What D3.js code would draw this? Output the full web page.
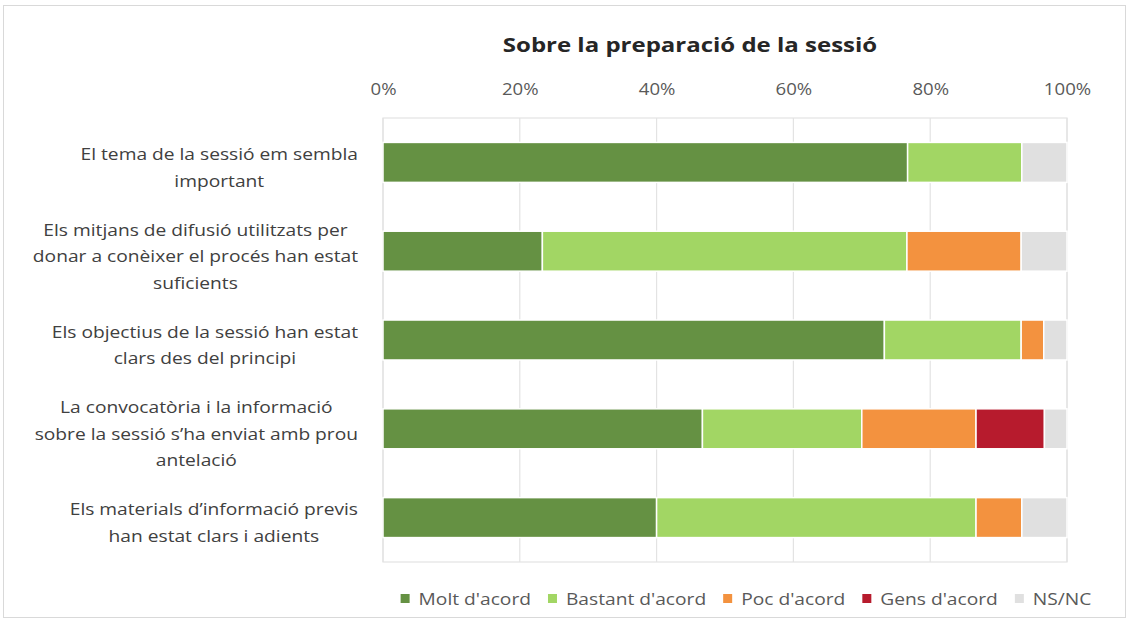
<!DOCTYPE html>
<html>
<head>
<meta charset="utf-8">
<script src="https://cdn.jsdelivr.net/npm/d3@7/dist/d3.min.js"></script>
<style>
  html, body { margin: 0; padding: 0; background: #fff; }
  svg { display: block; }
  text { font-family: "Open Sans", sans-serif; }
</style>
</head>
<body>
<svg id="chart" width="1129" height="621"></svg>
<script>
const categories = [
  ["El tema de la sessió em sembla", "important"],
  ["Els mitjans de difusió utilitzats per", "donar a conèixer el procés han estat", "suficients"],
  ["Els objectius de la sessió han estat", "clars des del principi"],
  ["La convocatòria i la informació", "sobre la sessió s’ha enviat amb prou", "antelació"],
  ["Els materials d’informació previs", "han estat clars i adients"]
];
const seriesNames = ["Molt d'acord", "Bastant d'acord", "Poc d'acord", "Gens d'acord", "NS/NC"];
const moltAcord    = [76.7, 23.3, 73.3, 46.7, 40.0];
const bastantAcord = [16.7, 53.3, 20.0, 23.3, 46.7];
const pocAcord     = [0.0, 16.7, 3.3, 16.7, 6.7];
const gensAcord    = [0.0, 0.0, 0.0, 10.0, 0.0];
const nsnc         = [6.6, 6.7, 3.4, 3.3, 6.6];
const tickValues = [0, 20, 40, 60, 80, 100];
const colors = ["#659143", "#a2d664", "#f3923f", "#b71b2d", "#e0e0e0"];
const title = "Sobre la preparació de la sessió";

const SX = 1.2; // horizontal text stretch as in the reference

const seriesValues = [moltAcord, bastantAcord, pocAcord, gensAcord, nsnc];
const rows = categories.map((c, i) => {
  const r = { key: i };
  seriesNames.forEach((s, j) => r[s] = seriesValues[j][i]);
  return r;
});
const stacked = d3.stack().keys(seriesNames)(rows);

const svg = d3.select("#chart");

// outer border
svg.append("rect").attr("x", 3.5).attr("y", 5.5).attr("width", 1122).attr("height", 612)
  .attr("fill", "none").attr("stroke", "#d9d9d9").attr("stroke-width", 1);

const x = d3.scaleLinear().domain([0, 100]).range([383, 1067]);
const y = d3.scaleBand().domain(d3.range(categories.length)).range([118, 562])
  .paddingInner(0.55).paddingOuter(0.275);

// plot area box
svg.append("rect").attr("x", x(0)).attr("y", 118).attr("width", x(100) - x(0)).attr("height", 444)
  .attr("fill", "none").attr("stroke", "#e3e3e3").attr("stroke-width", 1.2);

// gridlines
svg.append("g").selectAll("line").data(tickValues).join("line")
  .attr("x1", d => x(d)).attr("x2", d => x(d)).attr("y1", 118).attr("y2", 562)
  .attr("stroke", "#e3e3e3").attr("stroke-width", 1.2);

// axis labels on top
const axis = d3.axisTop(x).tickValues(tickValues).tickFormat(d => d + "%").tickSize(0).tickPadding(0);
const ag = svg.append("g").attr("transform", "translate(0,95)").call(axis);
ag.select(".domain").remove();
ag.selectAll("text").attr("font-family", "'Open Sans', sans-serif").attr("font-size", 15.5)
  .attr("fill", "#595959").attr("dy", 0).attr("y", 0).attr("transform", `scale(${SX},1)`);

// bars
svg.append("g").selectAll("g").data(stacked).join("g")
  .attr("fill", (d, i) => colors[i])
  .selectAll("rect").data(d => d).join("rect")
  .filter(d => d[1] - d[0] > 0)
  .attr("x", d => x(d[0]))
  .attr("width", d => x(d[1]) - x(d[0]))
  .attr("y", (d, i) => y(d.data.key))
  .attr("height", y.bandwidth())
  .attr("stroke", "#fff").attr("stroke-width", 1.5);

// category labels
const lineH = 26.5;
const lg = svg.append("g");
categories.forEach((lines, i) => {
  const cy = y(i) + y.bandwidth() / 2;
  const t = lg.append("text").attr("font-size", 16).attr("fill", "#404040")
    .attr("text-anchor", "middle").attr("transform", `translate(358,0) scale(${SX},1)`);
  const tsp = lines.map((l, k) => t.append("tspan").text(l)
    .attr("y", cy + (k - (lines.length - 1) / 2) * lineH + 11));
  const maxW = d3.max(tsp, s => s.node().getComputedTextLength());
  tsp.forEach(s => s.attr("x", -maxW / 2));
});

// title
svg.append("text").attr("transform", `translate(690,52) scale(${SX},1)`).attr("text-anchor", "middle")
  .attr("font-size", 20).attr("font-weight", "bold").attr("fill", "#262626").text(title);

// legend
const leg = svg.append("g");
let lx = 0;
seriesNames.forEach((n, i) => {
  const g = leg.append("g").attr("transform", `translate(${lx},0)`);
  g.append("rect").attr("x", 0).attr("y", -11).attr("width", 9).attr("height", 9).attr("fill", colors[i]);
  const tx = g.append("text").attr("transform", `translate(18,0) scale(${SX},1)`)
    .attr("font-size", 16).attr("fill", "#595959").text(n);
  const w = tx.node().getComputedTextLength() * SX;
  lx += 18 + w + 17;
});
const totalW = lx - 17;
leg.attr("transform", `translate(${746 - totalW / 2},605)`);
</script>
</body>
</html>
